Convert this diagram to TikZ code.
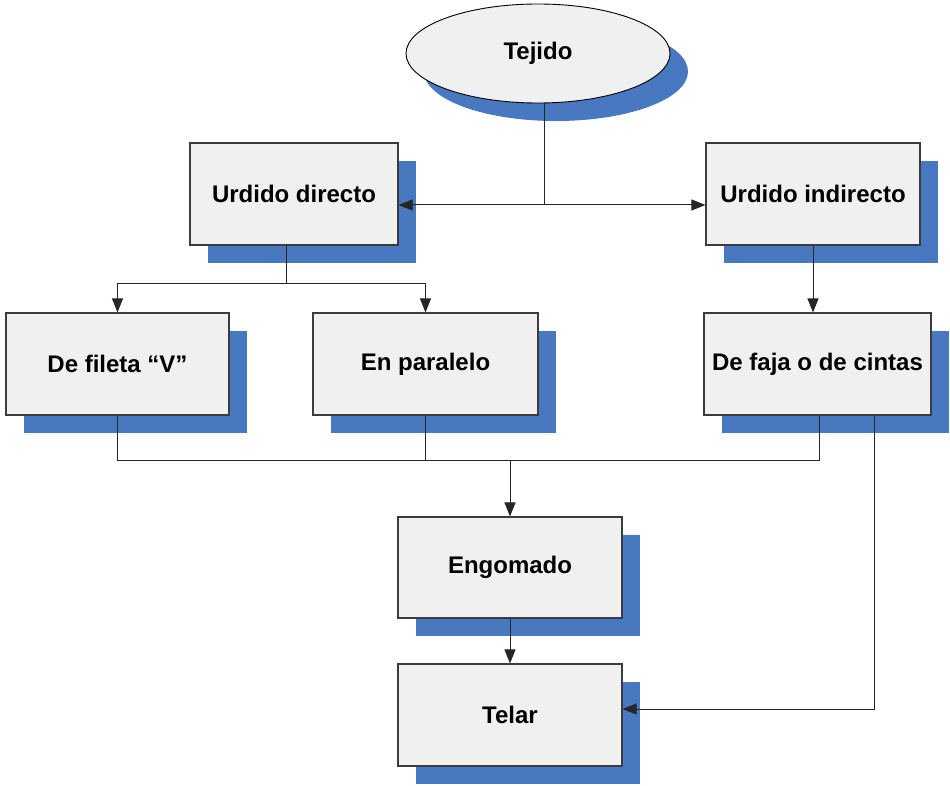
\documentclass[tikz,border=0pt]{standalone}
\usepackage{fontspec}
\setmainfont{Liberation Sans}
\usetikzlibrary{arrows.meta,shapes.geometric,shadows}
\definecolor{shadowblue}{RGB}{72,120,191}
\definecolor{boxfill}{RGB}{240,240,240}
\definecolor{edge}{RGB}{60,60,60}
\begin{document}
\begin{tikzpicture}[x=1pt,y=-1pt,
  sh/.style={drop shadow={shadow xshift=18pt,shadow yshift=-18pt,opacity=1,fill=shadowblue}},
  box/.style={rectangle,draw=edge,line width=1.1pt,fill=boxfill,sh,inner sep=0pt,
    minimum height=102pt,font=\bfseries\fontsize{24}{28}\selectfont},
  oval/.style={ellipse,draw=black,line width=0.9pt,fill=boxfill,sh,inner sep=0pt,
    font=\bfseries\fontsize{24}{28}\selectfont},
  conn/.style={draw=black!85,line width=1pt},
  arr/.style={conn,-{Triangle[length=14pt,width=11pt]}}]
\useasboundingbox (0,0) rectangle (950,786);
\node[oval,minimum width=264pt,minimum height=99pt] (tj) at (538,53.5) {Tejido};
\node[box,minimum width=208pt] (ud) at (294,194) {Urdido directo};
\node[box,minimum width=214pt] (ui) at (813,194) {Urdido indirecto};
\node[box,minimum width=223pt] (fv) at (117.5,364) {De fileta “V”};
\node[box,minimum width=225pt] (ep) at (425.5,364) {En paralelo};
\node[box,minimum width=227pt] (df) at (817.5,364) {De faja o de cintas};
\node[box,minimum width=224pt,minimum height=101pt] (eg) at (510,567.5) {Engomado};
\node[box,minimum width=224pt] (tl) at (510,715) {Telar};
\coordinate (j1) at (544,205);
\coordinate (j2) at (286,284);
\coordinate (j3) at (510,460);
\coordinate (j4) at (819,460);
\coordinate (j5) at (874,709);
\draw[conn] (j1 |- tj.south) -- (j1);
\draw[arr] (j1) -- (ud.east |- j1);
\draw[arr] (j1) -- (ui.west |- j1);
\draw[conn] (j2 |- ud.south) -- (j2);
\draw[arr] (j2) -| (fv.north);
\draw[arr] (j2) -| (ep.north);
\draw[arr] (ui.south) -- (ui.south |- df.north);
\draw[conn] (fv.south) |- (j4) -- (j4 |- df.south);
\draw[conn] (ep.south) -- (ep.south |- j3);
\draw[arr] (j3) -- (eg.north);
\draw[arr] (eg.south) -- (tl.north);
\draw[arr] (j5 |- df.south) -- (j5) -- (tl.east |- j5);
\end{tikzpicture}
\end{document}
